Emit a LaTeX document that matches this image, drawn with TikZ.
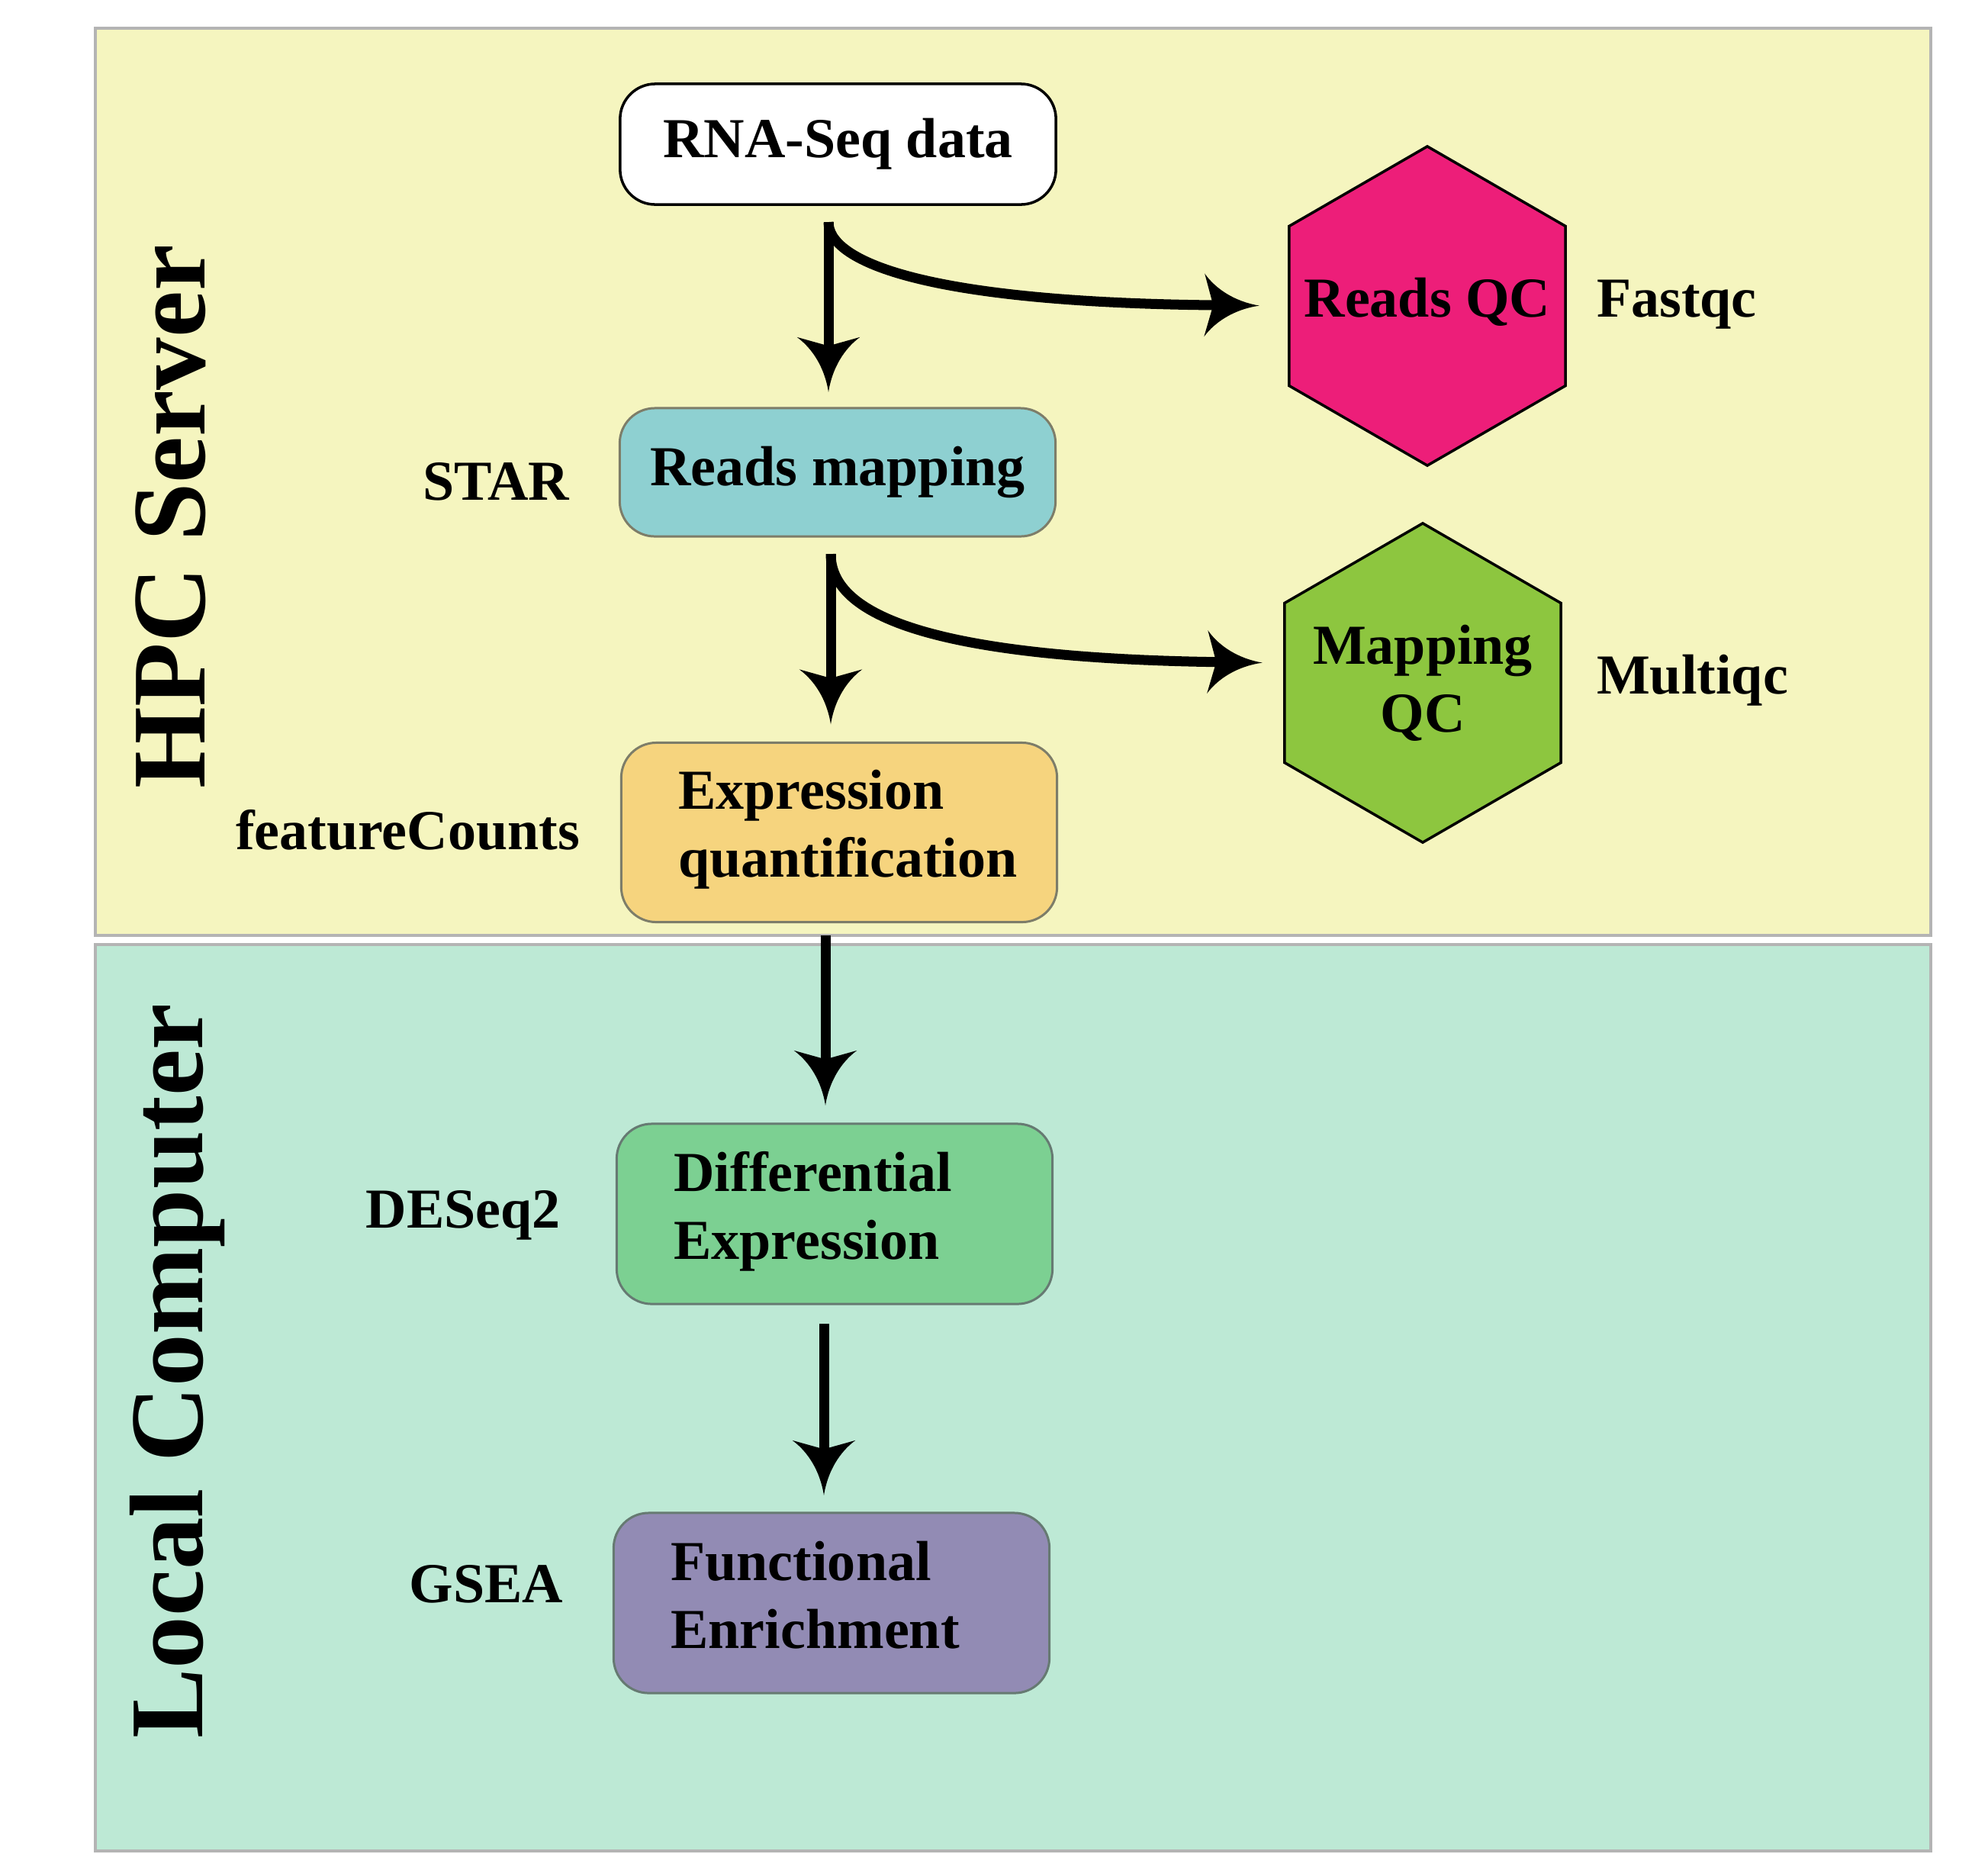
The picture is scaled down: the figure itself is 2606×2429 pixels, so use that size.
\documentclass[tikz,border=0pt]{standalone}
\usepackage{fontspec}
\setmainfont{Liberation Serif}
\usetikzlibrary{arrows.meta,calc,shapes.geometric}

\pgfdeclarearrow{
  name = Swoop,
  parameters = {\the\pgfarrowlength,\the\pgfarrowwidth},
  setup code = {
    \pgfarrowssettipend{0pt}
    \pgfarrowssetbackend{-\pgfarrowlength}
    \pgfarrowssetlineend{-.8\pgfarrowlength}
    \pgfarrowsupperhullpoint{0pt}{0pt}
    \pgfarrowsupperhullpoint{-\pgfarrowlength}{.5\pgfarrowwidth}
    \pgfarrowssavethe\pgfarrowlength
    \pgfarrowssavethe\pgfarrowwidth
  },
  drawing code = {
    \pgfpathmoveto{\pgfpointorigin}
    \pgfpathcurveto{\pgfpoint{-.45\pgfarrowlength}{.06\pgfarrowwidth}}{\pgfpoint{-.8\pgfarrowlength}{.26\pgfarrowwidth}}{\pgfpoint{-\pgfarrowlength}{.5\pgfarrowwidth}}
    \pgfpathlineto{\pgfpoint{-.84\pgfarrowlength}{0pt}}
    \pgfpathlineto{\pgfpoint{-\pgfarrowlength}{-.5\pgfarrowwidth}}
    \pgfpathcurveto{\pgfpoint{-.8\pgfarrowlength}{-.26\pgfarrowwidth}}{\pgfpoint{-.45\pgfarrowlength}{-.06\pgfarrowwidth}}{\pgfpointorigin}
    \pgfpathclose
    \pgfusepathqfill
  },
  defaults = {length=20pt, width=23pt}
}

\definecolor{hpcbg}{HTML}{F5F5BF}
\definecolor{localbg}{HTML}{BDE9D5}
\definecolor{panelline}{HTML}{B4B4B4}
\definecolor{mapfill}{HTML}{8ED0D1}
\definecolor{quantfill}{HTML}{F6D47E}
\definecolor{defill}{HTML}{7CD092}
\definecolor{funcfill}{HTML}{928BB4}
\definecolor{qcpink}{HTML}{ED1E79}
\definecolor{qcgreen}{HTML}{8DC63F}
\definecolor{edgeA}{HTML}{7D7D69}
\definecolor{edgeB}{HTML}{667A72}

\tikzset{
  lbl/.style={font=\fontsize{21.05pt}{25.04pt}\selectfont\bfseries, inner sep=0pt, outer sep=0pt},
  bigtitle/.style={font=\fontsize{39pt}{46pt}\selectfont\bfseries, inner sep=0pt, outer sep=0pt, rotate=90, anchor=base},
  panel/.style={draw=panelline, line width=1.1pt},
  stepbox/.style={draw, rounded corners=0.46cm, line width=0.85pt, outer sep=0pt, inner sep=0pt, lbl, minimum width=5.71cm},
  hexnode/.style={regular polygon, regular polygon sides=6, shape border rotate=30, minimum size=4.18cm, inner sep=0pt, outer sep=0pt, draw=black, line width=1pt},
  hextext/.style={lbl, align=center, anchor=base},
  flow/.style={line width=3.7pt, -{Swoop[length=20.5pt,width=23.5pt]}},
  boxtext/.style={lbl, align=left, anchor=base west}
}

\begin{document}
\begin{tikzpicture}[x=0.01cm, y=-0.01cm]
\useasboundingbox (0,0) rectangle (2606,2429);

% panels
\draw[panel, fill=hpcbg] (125,37) rectangle (2531,1226);
\draw[panel, fill=localbg] (125,1238) rectangle (2531,2426);

\node[bigtitle] (hpc) at (268,677) {HPC Server};
\node[bigtitle] (local) at (265,1797) {Local Computer};

% boxes
\node[stepbox, draw=black, line width=1pt, fill=white, minimum height=1.58cm] (rna) at (1098.5,189) {RNA-Seq data};
\node[stepbox, draw=edgeA, fill=mapfill, minimum height=1.68cm] (map) at (1098,619) {Reads mapping};
\node[stepbox, draw=edgeA, fill=quantfill, minimum height=2.35cm] (quant) at (1100,1091) {};
\node[stepbox, draw=edgeB, fill=defill, minimum height=2.36cm] (de) at (1094,1591) {};
\node[stepbox, draw=edgeB, fill=funcfill, minimum height=2.36cm] (func) at (1090,2101) {};

\node[boxtext] (quanttxt) at ($(quant.west)+(75,58)$) {Expression\\quantification};
\node[boxtext] (detxt) at ($(de.west)+(75,59)$) {Differential\\Expression};
\node[boxtext] (functxt) at ($(func.west)+(75,59)$) {Functional\\Enrichment};

% hexagons
\node[hexnode, fill=qcpink] (rqc) at (1871,401) {};
\node[hexnode, fill=qcgreen] (mqc) at (1865,895) {};
\node[hextext] (rqctxt) at ($(rqc.center)+(0,14)$) {Reads QC};
\node[hextext] (mqctxt) at ($(mqc.center)+(0,64)$) {Mapping\\QC};

% tool labels
\node[lbl, anchor=base east] (star) at (746,655) {STAR};
\node[lbl, anchor=base east] (fc) at (760,1113) {featureCounts};
\node[lbl, anchor=base east] (deseq) at (735,1609) {DESeq2};
\node[lbl, anchor=base east] (gsea) at (738,2100) {GSEA};
\node[lbl, anchor=base west] (fastqc) at (2093,415) {Fastqc};
\node[lbl, anchor=base west] (multiqc) at (2093,909) {Multiqc};

% connectors
\coordinate (b1) at ($(rna.south)+(-12.5,23)$);
\coordinate (b2) at ($(map.south)+(-9,23)$);
\coordinate (b3) at ($(quant.south)+(-18,17)$);
\coordinate (b4) at ($(de.south)+(-14,26)$);

\draw[flow, shorten >=0.21cm] (b1) -- (b1 |- map.north);
\draw[flow, shorten >=0.24cm] (b2) -- (b2 |- quant.north);
\draw[flow, shorten >=0.24cm] (b3) -- (b3 |- de.north);
\draw[flow, shorten >=0.23cm] (b4) -- (b4 |- func.north);

\draw[flow, shorten >=0.39cm] (b1) .. controls (1086,340) and (1200,396) .. (rqc.west);
\coordinate (m2) at ($(mqc.west)+(0,-26)$);
\draw[flow, shorten >=0.29cm] (b2) .. controls (1089,800) and (1200,862) .. (m2);
\end{tikzpicture}
\end{document}
